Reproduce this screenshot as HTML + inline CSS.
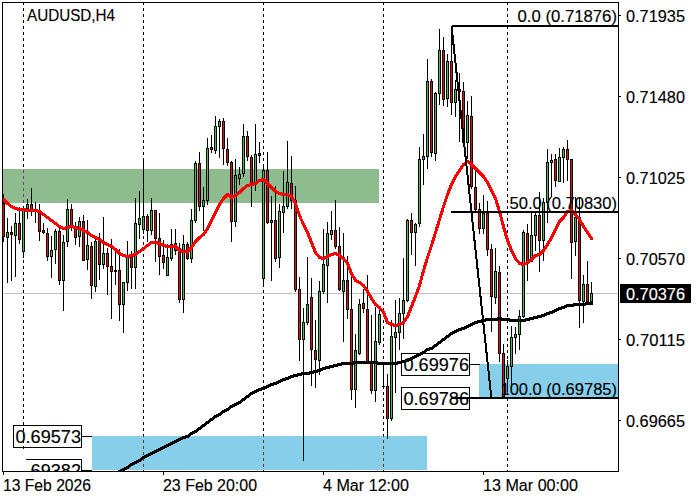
<!DOCTYPE html>
<html><head><meta charset="utf-8"><title>AUDUSD,H4</title>
<style>
html,body{margin:0;padding:0;background:#fff;}
body{width:700px;height:500px;overflow:hidden;}
svg{display:block;}
text{font-family:"Liberation Sans",sans-serif;fill:#000;stroke:#000;stroke-width:0.15px;}
</style></head><body>
<svg width="700" height="500" viewBox="0 0 700 500">
<rect width="700" height="500" fill="#fff"/>
<defs><clipPath id="c"><rect x="3" y="3" width="616" height="468"/></clipPath><clipPath id="c2"><rect x="26" y="459" width="60" height="12"/></clipPath></defs>
<g shape-rendering="crispEdges">
<rect x="3" y="169" width="376" height="34" fill="#8FBC8F"/>
<rect x="92" y="436" width="335" height="34" fill="#87CEEB"/>
<rect x="479" y="364" width="140" height="33" fill="#87CEEB"/>
<rect x="23" y="2" width="1" height="3" fill="#000"/>
<rect x="23" y="8" width="1" height="3" fill="#000"/>
<rect x="23" y="14" width="1" height="3" fill="#000"/>
<rect x="23" y="20" width="1" height="3" fill="#000"/>
<rect x="23" y="26" width="1" height="3" fill="#000"/>
<rect x="23" y="32" width="1" height="3" fill="#000"/>
<rect x="23" y="38" width="1" height="3" fill="#000"/>
<rect x="23" y="44" width="1" height="3" fill="#000"/>
<rect x="23" y="50" width="1" height="3" fill="#000"/>
<rect x="23" y="56" width="1" height="3" fill="#000"/>
<rect x="23" y="62" width="1" height="3" fill="#000"/>
<rect x="23" y="68" width="1" height="3" fill="#000"/>
<rect x="23" y="74" width="1" height="3" fill="#000"/>
<rect x="23" y="80" width="1" height="3" fill="#000"/>
<rect x="23" y="86" width="1" height="3" fill="#000"/>
<rect x="23" y="92" width="1" height="3" fill="#000"/>
<rect x="23" y="98" width="1" height="3" fill="#000"/>
<rect x="23" y="104" width="1" height="3" fill="#000"/>
<rect x="23" y="110" width="1" height="3" fill="#000"/>
<rect x="23" y="116" width="1" height="3" fill="#000"/>
<rect x="23" y="122" width="1" height="3" fill="#000"/>
<rect x="23" y="128" width="1" height="3" fill="#000"/>
<rect x="23" y="134" width="1" height="3" fill="#000"/>
<rect x="23" y="140" width="1" height="3" fill="#000"/>
<rect x="23" y="146" width="1" height="3" fill="#000"/>
<rect x="23" y="152" width="1" height="3" fill="#000"/>
<rect x="23" y="158" width="1" height="3" fill="#000"/>
<rect x="23" y="164" width="1" height="3" fill="#000"/>
<rect x="23" y="170" width="1" height="3" fill="#704370"/>
<rect x="23" y="176" width="1" height="3" fill="#704370"/>
<rect x="23" y="182" width="1" height="3" fill="#704370"/>
<rect x="23" y="188" width="1" height="3" fill="#704370"/>
<rect x="23" y="194" width="1" height="3" fill="#704370"/>
<rect x="23" y="200" width="1" height="3" fill="#704370"/>
<rect x="23" y="206" width="1" height="3" fill="#000"/>
<rect x="23" y="212" width="1" height="3" fill="#000"/>
<rect x="23" y="218" width="1" height="3" fill="#000"/>
<rect x="23" y="224" width="1" height="3" fill="#000"/>
<rect x="23" y="230" width="1" height="3" fill="#000"/>
<rect x="23" y="236" width="1" height="3" fill="#000"/>
<rect x="23" y="242" width="1" height="3" fill="#000"/>
<rect x="23" y="248" width="1" height="3" fill="#000"/>
<rect x="23" y="254" width="1" height="3" fill="#000"/>
<rect x="23" y="260" width="1" height="3" fill="#000"/>
<rect x="23" y="266" width="1" height="3" fill="#000"/>
<rect x="23" y="272" width="1" height="3" fill="#000"/>
<rect x="23" y="278" width="1" height="3" fill="#000"/>
<rect x="23" y="284" width="1" height="3" fill="#000"/>
<rect x="23" y="290" width="1" height="3" fill="#000"/>
<rect x="23" y="296" width="1" height="3" fill="#000"/>
<rect x="23" y="302" width="1" height="3" fill="#000"/>
<rect x="23" y="308" width="1" height="3" fill="#000"/>
<rect x="23" y="314" width="1" height="3" fill="#000"/>
<rect x="23" y="320" width="1" height="3" fill="#000"/>
<rect x="23" y="326" width="1" height="3" fill="#000"/>
<rect x="23" y="332" width="1" height="3" fill="#000"/>
<rect x="23" y="338" width="1" height="3" fill="#000"/>
<rect x="23" y="344" width="1" height="3" fill="#000"/>
<rect x="23" y="350" width="1" height="3" fill="#000"/>
<rect x="23" y="356" width="1" height="3" fill="#000"/>
<rect x="23" y="362" width="1" height="3" fill="#000"/>
<rect x="23" y="368" width="1" height="3" fill="#000"/>
<rect x="23" y="374" width="1" height="3" fill="#000"/>
<rect x="23" y="380" width="1" height="3" fill="#000"/>
<rect x="23" y="386" width="1" height="3" fill="#000"/>
<rect x="23" y="392" width="1" height="3" fill="#000"/>
<rect x="23" y="398" width="1" height="3" fill="#000"/>
<rect x="23" y="404" width="1" height="3" fill="#000"/>
<rect x="23" y="410" width="1" height="3" fill="#000"/>
<rect x="23" y="416" width="1" height="3" fill="#000"/>
<rect x="23" y="422" width="1" height="3" fill="#000"/>
<rect x="23" y="428" width="1" height="3" fill="#000"/>
<rect x="23" y="434" width="1" height="3" fill="#000"/>
<rect x="23" y="440" width="1" height="3" fill="#000"/>
<rect x="23" y="446" width="1" height="3" fill="#000"/>
<rect x="143" y="2" width="1" height="3" fill="#000"/>
<rect x="143" y="8" width="1" height="3" fill="#000"/>
<rect x="143" y="14" width="1" height="3" fill="#000"/>
<rect x="143" y="20" width="1" height="3" fill="#000"/>
<rect x="143" y="26" width="1" height="3" fill="#000"/>
<rect x="143" y="32" width="1" height="3" fill="#000"/>
<rect x="143" y="38" width="1" height="3" fill="#000"/>
<rect x="143" y="44" width="1" height="3" fill="#000"/>
<rect x="143" y="50" width="1" height="3" fill="#000"/>
<rect x="143" y="56" width="1" height="3" fill="#000"/>
<rect x="143" y="62" width="1" height="3" fill="#000"/>
<rect x="143" y="68" width="1" height="3" fill="#000"/>
<rect x="143" y="74" width="1" height="3" fill="#000"/>
<rect x="143" y="80" width="1" height="3" fill="#000"/>
<rect x="143" y="86" width="1" height="3" fill="#000"/>
<rect x="143" y="92" width="1" height="3" fill="#000"/>
<rect x="143" y="98" width="1" height="3" fill="#000"/>
<rect x="143" y="104" width="1" height="3" fill="#000"/>
<rect x="143" y="110" width="1" height="3" fill="#000"/>
<rect x="143" y="116" width="1" height="3" fill="#000"/>
<rect x="143" y="122" width="1" height="3" fill="#000"/>
<rect x="143" y="128" width="1" height="3" fill="#000"/>
<rect x="143" y="134" width="1" height="3" fill="#000"/>
<rect x="143" y="140" width="1" height="3" fill="#000"/>
<rect x="143" y="146" width="1" height="3" fill="#000"/>
<rect x="143" y="152" width="1" height="3" fill="#000"/>
<rect x="143" y="158" width="1" height="3" fill="#000"/>
<rect x="143" y="164" width="1" height="3" fill="#000"/>
<rect x="143" y="170" width="1" height="3" fill="#704370"/>
<rect x="143" y="176" width="1" height="3" fill="#704370"/>
<rect x="143" y="182" width="1" height="3" fill="#704370"/>
<rect x="143" y="188" width="1" height="3" fill="#704370"/>
<rect x="143" y="194" width="1" height="3" fill="#704370"/>
<rect x="143" y="200" width="1" height="3" fill="#704370"/>
<rect x="143" y="206" width="1" height="3" fill="#000"/>
<rect x="143" y="212" width="1" height="3" fill="#000"/>
<rect x="143" y="218" width="1" height="3" fill="#000"/>
<rect x="143" y="224" width="1" height="3" fill="#000"/>
<rect x="143" y="230" width="1" height="3" fill="#000"/>
<rect x="143" y="236" width="1" height="3" fill="#000"/>
<rect x="143" y="242" width="1" height="3" fill="#000"/>
<rect x="143" y="248" width="1" height="3" fill="#000"/>
<rect x="143" y="254" width="1" height="3" fill="#000"/>
<rect x="143" y="260" width="1" height="3" fill="#000"/>
<rect x="143" y="266" width="1" height="3" fill="#000"/>
<rect x="143" y="272" width="1" height="3" fill="#000"/>
<rect x="143" y="278" width="1" height="3" fill="#000"/>
<rect x="143" y="284" width="1" height="3" fill="#000"/>
<rect x="143" y="290" width="1" height="3" fill="#000"/>
<rect x="143" y="296" width="1" height="3" fill="#000"/>
<rect x="143" y="302" width="1" height="3" fill="#000"/>
<rect x="143" y="308" width="1" height="3" fill="#000"/>
<rect x="143" y="314" width="1" height="3" fill="#000"/>
<rect x="143" y="320" width="1" height="3" fill="#000"/>
<rect x="143" y="326" width="1" height="3" fill="#000"/>
<rect x="143" y="332" width="1" height="3" fill="#000"/>
<rect x="143" y="338" width="1" height="3" fill="#000"/>
<rect x="143" y="344" width="1" height="3" fill="#000"/>
<rect x="143" y="350" width="1" height="3" fill="#000"/>
<rect x="143" y="356" width="1" height="3" fill="#000"/>
<rect x="143" y="362" width="1" height="3" fill="#000"/>
<rect x="143" y="368" width="1" height="3" fill="#000"/>
<rect x="143" y="374" width="1" height="3" fill="#000"/>
<rect x="143" y="380" width="1" height="3" fill="#000"/>
<rect x="143" y="386" width="1" height="3" fill="#000"/>
<rect x="143" y="392" width="1" height="3" fill="#000"/>
<rect x="143" y="398" width="1" height="3" fill="#000"/>
<rect x="143" y="404" width="1" height="3" fill="#000"/>
<rect x="143" y="410" width="1" height="3" fill="#000"/>
<rect x="143" y="416" width="1" height="3" fill="#000"/>
<rect x="143" y="422" width="1" height="3" fill="#000"/>
<rect x="143" y="428" width="1" height="3" fill="#000"/>
<rect x="143" y="434" width="1" height="2" fill="#000"/>
<rect x="143" y="436" width="1" height="1" fill="#783114"/>
<rect x="143" y="440" width="1" height="3" fill="#783114"/>
<rect x="143" y="446" width="1" height="3" fill="#783114"/>
<rect x="143" y="452" width="1" height="3" fill="#783114"/>
<rect x="143" y="458" width="1" height="3" fill="#783114"/>
<rect x="143" y="464" width="1" height="3" fill="#783114"/>
<rect x="143" y="470" width="1" height="1" fill="#000"/>
<rect x="263" y="2" width="1" height="3" fill="#000"/>
<rect x="263" y="8" width="1" height="3" fill="#000"/>
<rect x="263" y="14" width="1" height="3" fill="#000"/>
<rect x="263" y="20" width="1" height="3" fill="#000"/>
<rect x="263" y="26" width="1" height="3" fill="#000"/>
<rect x="263" y="32" width="1" height="3" fill="#000"/>
<rect x="263" y="38" width="1" height="3" fill="#000"/>
<rect x="263" y="44" width="1" height="3" fill="#000"/>
<rect x="263" y="50" width="1" height="3" fill="#000"/>
<rect x="263" y="56" width="1" height="3" fill="#000"/>
<rect x="263" y="62" width="1" height="3" fill="#000"/>
<rect x="263" y="68" width="1" height="3" fill="#000"/>
<rect x="263" y="74" width="1" height="3" fill="#000"/>
<rect x="263" y="80" width="1" height="3" fill="#000"/>
<rect x="263" y="86" width="1" height="3" fill="#000"/>
<rect x="263" y="92" width="1" height="3" fill="#000"/>
<rect x="263" y="98" width="1" height="3" fill="#000"/>
<rect x="263" y="104" width="1" height="3" fill="#000"/>
<rect x="263" y="110" width="1" height="3" fill="#000"/>
<rect x="263" y="116" width="1" height="3" fill="#000"/>
<rect x="263" y="122" width="1" height="3" fill="#000"/>
<rect x="263" y="128" width="1" height="3" fill="#000"/>
<rect x="263" y="134" width="1" height="3" fill="#000"/>
<rect x="263" y="140" width="1" height="3" fill="#000"/>
<rect x="263" y="146" width="1" height="3" fill="#000"/>
<rect x="263" y="152" width="1" height="3" fill="#000"/>
<rect x="263" y="158" width="1" height="3" fill="#000"/>
<rect x="263" y="164" width="1" height="3" fill="#000"/>
<rect x="263" y="170" width="1" height="3" fill="#704370"/>
<rect x="263" y="176" width="1" height="3" fill="#704370"/>
<rect x="263" y="182" width="1" height="3" fill="#704370"/>
<rect x="263" y="188" width="1" height="3" fill="#704370"/>
<rect x="263" y="194" width="1" height="3" fill="#704370"/>
<rect x="263" y="200" width="1" height="3" fill="#704370"/>
<rect x="263" y="206" width="1" height="3" fill="#000"/>
<rect x="263" y="212" width="1" height="3" fill="#000"/>
<rect x="263" y="218" width="1" height="3" fill="#000"/>
<rect x="263" y="224" width="1" height="3" fill="#000"/>
<rect x="263" y="230" width="1" height="3" fill="#000"/>
<rect x="263" y="236" width="1" height="3" fill="#000"/>
<rect x="263" y="242" width="1" height="3" fill="#000"/>
<rect x="263" y="248" width="1" height="3" fill="#000"/>
<rect x="263" y="254" width="1" height="3" fill="#000"/>
<rect x="263" y="260" width="1" height="3" fill="#000"/>
<rect x="263" y="266" width="1" height="3" fill="#000"/>
<rect x="263" y="272" width="1" height="3" fill="#000"/>
<rect x="263" y="278" width="1" height="3" fill="#000"/>
<rect x="263" y="284" width="1" height="3" fill="#000"/>
<rect x="263" y="290" width="1" height="3" fill="#000"/>
<rect x="263" y="296" width="1" height="3" fill="#000"/>
<rect x="263" y="302" width="1" height="3" fill="#000"/>
<rect x="263" y="308" width="1" height="3" fill="#000"/>
<rect x="263" y="314" width="1" height="3" fill="#000"/>
<rect x="263" y="320" width="1" height="3" fill="#000"/>
<rect x="263" y="326" width="1" height="3" fill="#000"/>
<rect x="263" y="332" width="1" height="3" fill="#000"/>
<rect x="263" y="338" width="1" height="3" fill="#000"/>
<rect x="263" y="344" width="1" height="3" fill="#000"/>
<rect x="263" y="350" width="1" height="3" fill="#000"/>
<rect x="263" y="356" width="1" height="3" fill="#000"/>
<rect x="263" y="362" width="1" height="3" fill="#000"/>
<rect x="263" y="368" width="1" height="3" fill="#000"/>
<rect x="263" y="374" width="1" height="3" fill="#000"/>
<rect x="263" y="380" width="1" height="3" fill="#000"/>
<rect x="263" y="386" width="1" height="3" fill="#000"/>
<rect x="263" y="392" width="1" height="3" fill="#000"/>
<rect x="263" y="398" width="1" height="3" fill="#000"/>
<rect x="263" y="404" width="1" height="3" fill="#000"/>
<rect x="263" y="410" width="1" height="3" fill="#000"/>
<rect x="263" y="416" width="1" height="3" fill="#000"/>
<rect x="263" y="422" width="1" height="3" fill="#000"/>
<rect x="263" y="428" width="1" height="3" fill="#000"/>
<rect x="263" y="434" width="1" height="2" fill="#000"/>
<rect x="263" y="436" width="1" height="1" fill="#783114"/>
<rect x="263" y="440" width="1" height="3" fill="#783114"/>
<rect x="263" y="446" width="1" height="3" fill="#783114"/>
<rect x="263" y="452" width="1" height="3" fill="#783114"/>
<rect x="263" y="458" width="1" height="3" fill="#783114"/>
<rect x="263" y="464" width="1" height="3" fill="#783114"/>
<rect x="263" y="470" width="1" height="1" fill="#000"/>
<rect x="383" y="2" width="1" height="3" fill="#000"/>
<rect x="383" y="8" width="1" height="3" fill="#000"/>
<rect x="383" y="14" width="1" height="3" fill="#000"/>
<rect x="383" y="20" width="1" height="3" fill="#000"/>
<rect x="383" y="26" width="1" height="3" fill="#000"/>
<rect x="383" y="32" width="1" height="3" fill="#000"/>
<rect x="383" y="38" width="1" height="3" fill="#000"/>
<rect x="383" y="44" width="1" height="3" fill="#000"/>
<rect x="383" y="50" width="1" height="3" fill="#000"/>
<rect x="383" y="56" width="1" height="3" fill="#000"/>
<rect x="383" y="62" width="1" height="3" fill="#000"/>
<rect x="383" y="68" width="1" height="3" fill="#000"/>
<rect x="383" y="74" width="1" height="3" fill="#000"/>
<rect x="383" y="80" width="1" height="3" fill="#000"/>
<rect x="383" y="86" width="1" height="3" fill="#000"/>
<rect x="383" y="92" width="1" height="3" fill="#000"/>
<rect x="383" y="98" width="1" height="3" fill="#000"/>
<rect x="383" y="104" width="1" height="3" fill="#000"/>
<rect x="383" y="110" width="1" height="3" fill="#000"/>
<rect x="383" y="116" width="1" height="3" fill="#000"/>
<rect x="383" y="122" width="1" height="3" fill="#000"/>
<rect x="383" y="128" width="1" height="3" fill="#000"/>
<rect x="383" y="134" width="1" height="3" fill="#000"/>
<rect x="383" y="140" width="1" height="3" fill="#000"/>
<rect x="383" y="146" width="1" height="3" fill="#000"/>
<rect x="383" y="152" width="1" height="3" fill="#000"/>
<rect x="383" y="158" width="1" height="3" fill="#000"/>
<rect x="383" y="164" width="1" height="3" fill="#000"/>
<rect x="383" y="170" width="1" height="3" fill="#000"/>
<rect x="383" y="176" width="1" height="3" fill="#000"/>
<rect x="383" y="182" width="1" height="3" fill="#000"/>
<rect x="383" y="188" width="1" height="3" fill="#000"/>
<rect x="383" y="194" width="1" height="3" fill="#000"/>
<rect x="383" y="200" width="1" height="3" fill="#000"/>
<rect x="383" y="206" width="1" height="3" fill="#000"/>
<rect x="383" y="212" width="1" height="3" fill="#000"/>
<rect x="383" y="218" width="1" height="3" fill="#000"/>
<rect x="383" y="224" width="1" height="3" fill="#000"/>
<rect x="383" y="230" width="1" height="3" fill="#000"/>
<rect x="383" y="236" width="1" height="3" fill="#000"/>
<rect x="383" y="242" width="1" height="3" fill="#000"/>
<rect x="383" y="248" width="1" height="3" fill="#000"/>
<rect x="383" y="254" width="1" height="3" fill="#000"/>
<rect x="383" y="260" width="1" height="3" fill="#000"/>
<rect x="383" y="266" width="1" height="3" fill="#000"/>
<rect x="383" y="272" width="1" height="3" fill="#000"/>
<rect x="383" y="278" width="1" height="3" fill="#000"/>
<rect x="383" y="284" width="1" height="3" fill="#000"/>
<rect x="383" y="290" width="1" height="3" fill="#000"/>
<rect x="383" y="296" width="1" height="3" fill="#000"/>
<rect x="383" y="302" width="1" height="3" fill="#000"/>
<rect x="383" y="308" width="1" height="3" fill="#000"/>
<rect x="383" y="314" width="1" height="3" fill="#000"/>
<rect x="383" y="320" width="1" height="3" fill="#000"/>
<rect x="383" y="326" width="1" height="3" fill="#000"/>
<rect x="383" y="332" width="1" height="3" fill="#000"/>
<rect x="383" y="338" width="1" height="3" fill="#000"/>
<rect x="383" y="344" width="1" height="3" fill="#000"/>
<rect x="383" y="350" width="1" height="3" fill="#000"/>
<rect x="383" y="356" width="1" height="3" fill="#000"/>
<rect x="383" y="362" width="1" height="3" fill="#000"/>
<rect x="383" y="368" width="1" height="3" fill="#000"/>
<rect x="383" y="374" width="1" height="3" fill="#000"/>
<rect x="383" y="380" width="1" height="3" fill="#000"/>
<rect x="383" y="386" width="1" height="3" fill="#000"/>
<rect x="383" y="392" width="1" height="3" fill="#000"/>
<rect x="383" y="398" width="1" height="3" fill="#000"/>
<rect x="383" y="404" width="1" height="3" fill="#000"/>
<rect x="383" y="410" width="1" height="3" fill="#000"/>
<rect x="383" y="416" width="1" height="3" fill="#000"/>
<rect x="383" y="422" width="1" height="3" fill="#000"/>
<rect x="383" y="428" width="1" height="3" fill="#000"/>
<rect x="383" y="434" width="1" height="2" fill="#000"/>
<rect x="383" y="436" width="1" height="1" fill="#783114"/>
<rect x="383" y="440" width="1" height="3" fill="#783114"/>
<rect x="383" y="446" width="1" height="3" fill="#783114"/>
<rect x="383" y="452" width="1" height="3" fill="#783114"/>
<rect x="383" y="458" width="1" height="3" fill="#783114"/>
<rect x="383" y="464" width="1" height="3" fill="#783114"/>
<rect x="383" y="470" width="1" height="1" fill="#000"/>
<rect x="507" y="2" width="1" height="3" fill="#000"/>
<rect x="507" y="8" width="1" height="3" fill="#000"/>
<rect x="507" y="14" width="1" height="3" fill="#000"/>
<rect x="507" y="20" width="1" height="3" fill="#000"/>
<rect x="507" y="26" width="1" height="3" fill="#000"/>
<rect x="507" y="32" width="1" height="3" fill="#000"/>
<rect x="507" y="38" width="1" height="3" fill="#000"/>
<rect x="507" y="44" width="1" height="3" fill="#000"/>
<rect x="507" y="50" width="1" height="3" fill="#000"/>
<rect x="507" y="56" width="1" height="3" fill="#000"/>
<rect x="507" y="62" width="1" height="3" fill="#000"/>
<rect x="507" y="68" width="1" height="3" fill="#000"/>
<rect x="507" y="74" width="1" height="3" fill="#000"/>
<rect x="507" y="80" width="1" height="3" fill="#000"/>
<rect x="507" y="86" width="1" height="3" fill="#000"/>
<rect x="507" y="92" width="1" height="3" fill="#000"/>
<rect x="507" y="98" width="1" height="3" fill="#000"/>
<rect x="507" y="104" width="1" height="3" fill="#000"/>
<rect x="507" y="110" width="1" height="3" fill="#000"/>
<rect x="507" y="116" width="1" height="3" fill="#000"/>
<rect x="507" y="122" width="1" height="3" fill="#000"/>
<rect x="507" y="128" width="1" height="3" fill="#000"/>
<rect x="507" y="134" width="1" height="3" fill="#000"/>
<rect x="507" y="140" width="1" height="3" fill="#000"/>
<rect x="507" y="146" width="1" height="3" fill="#000"/>
<rect x="507" y="152" width="1" height="3" fill="#000"/>
<rect x="507" y="158" width="1" height="3" fill="#000"/>
<rect x="507" y="164" width="1" height="3" fill="#000"/>
<rect x="507" y="170" width="1" height="3" fill="#000"/>
<rect x="507" y="176" width="1" height="3" fill="#000"/>
<rect x="507" y="182" width="1" height="3" fill="#000"/>
<rect x="507" y="188" width="1" height="3" fill="#000"/>
<rect x="507" y="194" width="1" height="3" fill="#000"/>
<rect x="507" y="200" width="1" height="3" fill="#000"/>
<rect x="507" y="206" width="1" height="3" fill="#000"/>
<rect x="507" y="212" width="1" height="3" fill="#000"/>
<rect x="507" y="218" width="1" height="3" fill="#000"/>
<rect x="507" y="224" width="1" height="3" fill="#000"/>
<rect x="507" y="230" width="1" height="3" fill="#000"/>
<rect x="507" y="236" width="1" height="3" fill="#000"/>
<rect x="507" y="242" width="1" height="3" fill="#000"/>
<rect x="507" y="248" width="1" height="3" fill="#000"/>
<rect x="507" y="254" width="1" height="3" fill="#000"/>
<rect x="507" y="260" width="1" height="3" fill="#000"/>
<rect x="507" y="266" width="1" height="3" fill="#000"/>
<rect x="507" y="272" width="1" height="3" fill="#000"/>
<rect x="507" y="278" width="1" height="3" fill="#000"/>
<rect x="507" y="284" width="1" height="3" fill="#000"/>
<rect x="507" y="290" width="1" height="3" fill="#000"/>
<rect x="507" y="296" width="1" height="3" fill="#000"/>
<rect x="507" y="302" width="1" height="3" fill="#000"/>
<rect x="507" y="308" width="1" height="3" fill="#000"/>
<rect x="507" y="314" width="1" height="3" fill="#000"/>
<rect x="507" y="320" width="1" height="3" fill="#000"/>
<rect x="507" y="326" width="1" height="3" fill="#000"/>
<rect x="507" y="332" width="1" height="3" fill="#000"/>
<rect x="507" y="338" width="1" height="3" fill="#000"/>
<rect x="507" y="344" width="1" height="3" fill="#000"/>
<rect x="507" y="350" width="1" height="3" fill="#000"/>
<rect x="507" y="356" width="1" height="3" fill="#000"/>
<rect x="507" y="362" width="1" height="2" fill="#000"/>
<rect x="507" y="364" width="1" height="1" fill="#783114"/>
<rect x="507" y="368" width="1" height="3" fill="#783114"/>
<rect x="507" y="374" width="1" height="3" fill="#783114"/>
<rect x="507" y="380" width="1" height="3" fill="#783114"/>
<rect x="507" y="386" width="1" height="3" fill="#783114"/>
<rect x="507" y="392" width="1" height="3" fill="#783114"/>
<rect x="507" y="398" width="1" height="3" fill="#000"/>
<rect x="507" y="404" width="1" height="3" fill="#000"/>
<rect x="507" y="410" width="1" height="3" fill="#000"/>
<rect x="507" y="416" width="1" height="3" fill="#000"/>
<rect x="507" y="422" width="1" height="3" fill="#000"/>
<rect x="507" y="428" width="1" height="3" fill="#000"/>
<rect x="507" y="434" width="1" height="3" fill="#000"/>
<rect x="507" y="440" width="1" height="3" fill="#000"/>
<rect x="507" y="446" width="1" height="3" fill="#000"/>
<rect x="507" y="452" width="1" height="3" fill="#000"/>
<rect x="507" y="458" width="1" height="3" fill="#000"/>
<rect x="507" y="464" width="1" height="3" fill="#000"/>
<rect x="507" y="470" width="1" height="1" fill="#000"/>
<rect x="3" y="293" width="616" height="1" fill="#C0C0C0"/>
<rect x="3" y="194" width="1" height="48" fill="#000"/>
<rect x="2" y="203" width="3" height="34" fill="#000"/>
<rect x="3" y="204" width="1" height="32" fill="#FF0000"/>
<rect x="7" y="218" width="1" height="65" fill="#000"/>
<rect x="6" y="232" width="3" height="6" fill="#000"/>
<rect x="7" y="233" width="1" height="4" fill="#32CD32"/>
<rect x="11" y="226" width="1" height="55" fill="#000"/>
<rect x="10" y="232" width="3" height="3" fill="#000"/>
<rect x="11" y="233" width="1" height="1" fill="#FF0000"/>
<rect x="15" y="213" width="1" height="64" fill="#000"/>
<rect x="14" y="223" width="3" height="13" fill="#000"/>
<rect x="15" y="224" width="1" height="11" fill="#32CD32"/>
<rect x="19" y="207" width="1" height="37" fill="#000"/>
<rect x="18" y="223" width="3" height="17" fill="#000"/>
<rect x="19" y="224" width="1" height="15" fill="#FF0000"/>
<rect x="23" y="206" width="1" height="52" fill="#000"/>
<rect x="22" y="208" width="3" height="44" fill="#000"/>
<rect x="23" y="209" width="1" height="42" fill="#32CD32"/>
<rect x="27" y="199" width="1" height="20" fill="#000"/>
<rect x="26" y="204" width="3" height="5" fill="#000"/>
<rect x="27" y="205" width="1" height="3" fill="#32CD32"/>
<rect x="31" y="188" width="1" height="28" fill="#000"/>
<rect x="30" y="204" width="3" height="6" fill="#000"/>
<rect x="31" y="205" width="1" height="4" fill="#FF0000"/>
<rect x="35" y="202" width="1" height="21" fill="#000"/>
<rect x="34" y="209" width="3" height="2" fill="#000"/>
<rect x="39" y="204" width="1" height="37" fill="#000"/>
<rect x="38" y="211" width="3" height="21" fill="#000"/>
<rect x="39" y="212" width="1" height="19" fill="#FF0000"/>
<rect x="43" y="223" width="1" height="11" fill="#000"/>
<rect x="42" y="230" width="3" height="3" fill="#000"/>
<rect x="43" y="231" width="1" height="1" fill="#FF0000"/>
<rect x="47" y="228" width="1" height="33" fill="#000"/>
<rect x="46" y="233" width="3" height="24" fill="#000"/>
<rect x="47" y="234" width="1" height="22" fill="#FF0000"/>
<rect x="51" y="236" width="1" height="42" fill="#000"/>
<rect x="50" y="250" width="3" height="7" fill="#000"/>
<rect x="51" y="251" width="1" height="5" fill="#32CD32"/>
<rect x="55" y="229" width="1" height="35" fill="#000"/>
<rect x="54" y="231" width="3" height="19" fill="#000"/>
<rect x="55" y="232" width="1" height="17" fill="#32CD32"/>
<rect x="59" y="228" width="1" height="57" fill="#000"/>
<rect x="58" y="231" width="3" height="50" fill="#000"/>
<rect x="59" y="232" width="1" height="48" fill="#FF0000"/>
<rect x="63" y="235" width="1" height="76" fill="#000"/>
<rect x="62" y="242" width="3" height="39" fill="#000"/>
<rect x="63" y="243" width="1" height="37" fill="#32CD32"/>
<rect x="67" y="199" width="1" height="48" fill="#000"/>
<rect x="66" y="209" width="3" height="33" fill="#000"/>
<rect x="67" y="210" width="1" height="31" fill="#32CD32"/>
<rect x="71" y="204" width="1" height="27" fill="#000"/>
<rect x="70" y="209" width="3" height="18" fill="#000"/>
<rect x="71" y="210" width="1" height="16" fill="#FF0000"/>
<rect x="75" y="222" width="1" height="23" fill="#000"/>
<rect x="74" y="227" width="3" height="11" fill="#000"/>
<rect x="75" y="228" width="1" height="9" fill="#FF0000"/>
<rect x="79" y="217" width="1" height="30" fill="#000"/>
<rect x="78" y="221" width="3" height="16" fill="#000"/>
<rect x="79" y="222" width="1" height="14" fill="#32CD32"/>
<rect x="83" y="215" width="1" height="46" fill="#000"/>
<rect x="82" y="221" width="3" height="40" fill="#000"/>
<rect x="83" y="222" width="1" height="38" fill="#FF0000"/>
<rect x="87" y="220" width="1" height="50" fill="#000"/>
<rect x="86" y="245" width="3" height="15" fill="#000"/>
<rect x="87" y="246" width="1" height="13" fill="#32CD32"/>
<rect x="91" y="242" width="1" height="57" fill="#000"/>
<rect x="90" y="246" width="3" height="40" fill="#000"/>
<rect x="91" y="247" width="1" height="38" fill="#FF0000"/>
<rect x="95" y="239" width="1" height="53" fill="#000"/>
<rect x="94" y="241" width="3" height="46" fill="#000"/>
<rect x="95" y="242" width="1" height="44" fill="#32CD32"/>
<rect x="99" y="233" width="1" height="47" fill="#000"/>
<rect x="98" y="241" width="3" height="24" fill="#000"/>
<rect x="99" y="242" width="1" height="22" fill="#FF0000"/>
<rect x="103" y="217" width="1" height="52" fill="#000"/>
<rect x="102" y="253" width="3" height="12" fill="#000"/>
<rect x="103" y="254" width="1" height="10" fill="#32CD32"/>
<rect x="107" y="248" width="1" height="47" fill="#000"/>
<rect x="106" y="253" width="3" height="14" fill="#000"/>
<rect x="107" y="254" width="1" height="12" fill="#FF0000"/>
<rect x="111" y="239" width="1" height="80" fill="#000"/>
<rect x="110" y="266" width="3" height="6" fill="#000"/>
<rect x="111" y="267" width="1" height="4" fill="#FF0000"/>
<rect x="115" y="251" width="1" height="34" fill="#000"/>
<rect x="114" y="270" width="3" height="2" fill="#000"/>
<rect x="119" y="249" width="1" height="72" fill="#000"/>
<rect x="118" y="270" width="3" height="35" fill="#000"/>
<rect x="119" y="271" width="1" height="33" fill="#FF0000"/>
<rect x="123" y="282" width="1" height="51" fill="#000"/>
<rect x="122" y="282" width="3" height="23" fill="#000"/>
<rect x="123" y="283" width="1" height="21" fill="#32CD32"/>
<rect x="127" y="241" width="1" height="50" fill="#000"/>
<rect x="126" y="257" width="3" height="26" fill="#000"/>
<rect x="127" y="258" width="1" height="24" fill="#32CD32"/>
<rect x="131" y="251" width="1" height="38" fill="#000"/>
<rect x="130" y="257" width="3" height="11" fill="#000"/>
<rect x="131" y="258" width="1" height="9" fill="#FF0000"/>
<rect x="135" y="198" width="1" height="91" fill="#000"/>
<rect x="134" y="223" width="3" height="45" fill="#000"/>
<rect x="135" y="224" width="1" height="43" fill="#32CD32"/>
<rect x="139" y="191" width="1" height="48" fill="#000"/>
<rect x="138" y="218" width="3" height="7" fill="#000"/>
<rect x="139" y="219" width="1" height="5" fill="#32CD32"/>
<rect x="143" y="158" width="1" height="76" fill="#000"/>
<rect x="142" y="216" width="3" height="14" fill="#000"/>
<rect x="143" y="217" width="1" height="12" fill="#32CD32"/>
<rect x="147" y="214" width="1" height="28" fill="#000"/>
<rect x="146" y="216" width="3" height="15" fill="#000"/>
<rect x="147" y="217" width="1" height="13" fill="#FF0000"/>
<rect x="151" y="198" width="1" height="37" fill="#000"/>
<rect x="150" y="210" width="3" height="21" fill="#000"/>
<rect x="151" y="211" width="1" height="19" fill="#32CD32"/>
<rect x="155" y="210" width="1" height="52" fill="#000"/>
<rect x="154" y="210" width="3" height="29" fill="#000"/>
<rect x="155" y="211" width="1" height="27" fill="#FF0000"/>
<rect x="159" y="213" width="1" height="62" fill="#000"/>
<rect x="158" y="238" width="3" height="19" fill="#000"/>
<rect x="159" y="239" width="1" height="17" fill="#FF0000"/>
<rect x="163" y="240" width="1" height="29" fill="#000"/>
<rect x="162" y="255" width="3" height="8" fill="#000"/>
<rect x="163" y="256" width="1" height="6" fill="#FF0000"/>
<rect x="167" y="244" width="1" height="32" fill="#000"/>
<rect x="166" y="257" width="3" height="19" fill="#000"/>
<rect x="167" y="258" width="1" height="17" fill="#32CD32"/>
<rect x="171" y="229" width="1" height="32" fill="#000"/>
<rect x="170" y="244" width="3" height="15" fill="#000"/>
<rect x="171" y="245" width="1" height="13" fill="#32CD32"/>
<rect x="175" y="229" width="1" height="26" fill="#000"/>
<rect x="174" y="243" width="3" height="8" fill="#000"/>
<rect x="175" y="244" width="1" height="6" fill="#FF0000"/>
<rect x="179" y="243" width="1" height="60" fill="#000"/>
<rect x="178" y="248" width="3" height="52" fill="#000"/>
<rect x="179" y="249" width="1" height="50" fill="#FF0000"/>
<rect x="183" y="235" width="1" height="78" fill="#000"/>
<rect x="182" y="244" width="3" height="56" fill="#000"/>
<rect x="183" y="245" width="1" height="54" fill="#32CD32"/>
<rect x="187" y="242" width="1" height="18" fill="#000"/>
<rect x="186" y="244" width="3" height="15" fill="#000"/>
<rect x="187" y="245" width="1" height="13" fill="#FF0000"/>
<rect x="191" y="209" width="1" height="54" fill="#000"/>
<rect x="190" y="220" width="3" height="39" fill="#000"/>
<rect x="191" y="221" width="1" height="37" fill="#32CD32"/>
<rect x="195" y="161" width="1" height="62" fill="#000"/>
<rect x="194" y="163" width="3" height="58" fill="#000"/>
<rect x="195" y="164" width="1" height="56" fill="#32CD32"/>
<rect x="199" y="152" width="1" height="59" fill="#000"/>
<rect x="198" y="163" width="3" height="44" fill="#000"/>
<rect x="199" y="164" width="1" height="42" fill="#FF0000"/>
<rect x="203" y="187" width="1" height="44" fill="#000"/>
<rect x="202" y="200" width="3" height="7" fill="#000"/>
<rect x="203" y="201" width="1" height="5" fill="#32CD32"/>
<rect x="207" y="138" width="1" height="67" fill="#000"/>
<rect x="206" y="148" width="3" height="53" fill="#000"/>
<rect x="207" y="149" width="1" height="51" fill="#32CD32"/>
<rect x="211" y="135" width="1" height="18" fill="#000"/>
<rect x="210" y="147" width="3" height="3" fill="#000"/>
<rect x="211" y="148" width="1" height="1" fill="#FF0000"/>
<rect x="215" y="116" width="1" height="38" fill="#000"/>
<rect x="214" y="126" width="3" height="25" fill="#000"/>
<rect x="215" y="127" width="1" height="23" fill="#32CD32"/>
<rect x="219" y="119" width="1" height="39" fill="#000"/>
<rect x="218" y="121" width="3" height="6" fill="#000"/>
<rect x="219" y="122" width="1" height="4" fill="#32CD32"/>
<rect x="223" y="118" width="1" height="47" fill="#000"/>
<rect x="222" y="121" width="3" height="28" fill="#000"/>
<rect x="223" y="122" width="1" height="26" fill="#FF0000"/>
<rect x="227" y="138" width="1" height="28" fill="#000"/>
<rect x="226" y="149" width="3" height="14" fill="#000"/>
<rect x="227" y="150" width="1" height="12" fill="#FF0000"/>
<rect x="231" y="161" width="1" height="81" fill="#000"/>
<rect x="230" y="162" width="3" height="60" fill="#000"/>
<rect x="231" y="163" width="1" height="58" fill="#FF0000"/>
<rect x="235" y="159" width="1" height="68" fill="#000"/>
<rect x="234" y="175" width="3" height="47" fill="#000"/>
<rect x="235" y="176" width="1" height="45" fill="#32CD32"/>
<rect x="239" y="167" width="1" height="18" fill="#000"/>
<rect x="238" y="174" width="3" height="5" fill="#000"/>
<rect x="239" y="175" width="1" height="3" fill="#32CD32"/>
<rect x="243" y="124" width="1" height="53" fill="#000"/>
<rect x="242" y="136" width="3" height="38" fill="#000"/>
<rect x="243" y="137" width="1" height="36" fill="#32CD32"/>
<rect x="247" y="131" width="1" height="30" fill="#000"/>
<rect x="246" y="136" width="3" height="21" fill="#000"/>
<rect x="247" y="137" width="1" height="19" fill="#FF0000"/>
<rect x="251" y="155" width="1" height="52" fill="#000"/>
<rect x="250" y="157" width="3" height="29" fill="#000"/>
<rect x="251" y="158" width="1" height="27" fill="#FF0000"/>
<rect x="255" y="124" width="1" height="67" fill="#000"/>
<rect x="254" y="154" width="3" height="31" fill="#000"/>
<rect x="255" y="155" width="1" height="29" fill="#32CD32"/>
<rect x="259" y="142" width="1" height="21" fill="#000"/>
<rect x="258" y="153" width="3" height="3" fill="#000"/>
<rect x="259" y="154" width="1" height="1" fill="#FF0000"/>
<rect x="263" y="164" width="1" height="123" fill="#000"/>
<rect x="262" y="170" width="3" height="109" fill="#000"/>
<rect x="263" y="171" width="1" height="107" fill="#32CD32"/>
<rect x="267" y="152" width="1" height="72" fill="#000"/>
<rect x="266" y="170" width="3" height="53" fill="#000"/>
<rect x="267" y="171" width="1" height="51" fill="#FF0000"/>
<rect x="271" y="196" width="1" height="85" fill="#000"/>
<rect x="270" y="220" width="3" height="3" fill="#000"/>
<rect x="271" y="221" width="1" height="1" fill="#32CD32"/>
<rect x="275" y="186" width="1" height="76" fill="#000"/>
<rect x="274" y="220" width="3" height="39" fill="#000"/>
<rect x="275" y="221" width="1" height="37" fill="#FF0000"/>
<rect x="279" y="204" width="1" height="64" fill="#000"/>
<rect x="278" y="211" width="3" height="47" fill="#000"/>
<rect x="279" y="212" width="1" height="45" fill="#32CD32"/>
<rect x="283" y="171" width="1" height="62" fill="#000"/>
<rect x="282" y="206" width="3" height="7" fill="#000"/>
<rect x="283" y="207" width="1" height="5" fill="#32CD32"/>
<rect x="287" y="141" width="1" height="68" fill="#000"/>
<rect x="286" y="182" width="3" height="25" fill="#000"/>
<rect x="287" y="183" width="1" height="23" fill="#32CD32"/>
<rect x="291" y="156" width="1" height="53" fill="#000"/>
<rect x="290" y="183" width="3" height="18" fill="#000"/>
<rect x="291" y="184" width="1" height="16" fill="#FF0000"/>
<rect x="295" y="186" width="1" height="106" fill="#000"/>
<rect x="294" y="200" width="3" height="90" fill="#000"/>
<rect x="295" y="201" width="1" height="88" fill="#FF0000"/>
<rect x="299" y="277" width="1" height="84" fill="#000"/>
<rect x="298" y="289" width="3" height="51" fill="#000"/>
<rect x="299" y="290" width="1" height="49" fill="#FF0000"/>
<rect x="303" y="308" width="1" height="153" fill="#000"/>
<rect x="302" y="322" width="3" height="18" fill="#000"/>
<rect x="303" y="323" width="1" height="16" fill="#32CD32"/>
<rect x="307" y="257" width="1" height="68" fill="#000"/>
<rect x="306" y="304" width="3" height="19" fill="#000"/>
<rect x="307" y="305" width="1" height="17" fill="#32CD32"/>
<rect x="311" y="278" width="1" height="108" fill="#000"/>
<rect x="310" y="297" width="3" height="53" fill="#000"/>
<rect x="311" y="298" width="1" height="51" fill="#FF0000"/>
<rect x="315" y="320" width="1" height="68" fill="#000"/>
<rect x="314" y="350" width="3" height="10" fill="#000"/>
<rect x="315" y="351" width="1" height="8" fill="#FF0000"/>
<rect x="319" y="281" width="1" height="94" fill="#000"/>
<rect x="318" y="291" width="3" height="70" fill="#000"/>
<rect x="319" y="292" width="1" height="68" fill="#32CD32"/>
<rect x="323" y="229" width="1" height="65" fill="#000"/>
<rect x="322" y="264" width="3" height="28" fill="#000"/>
<rect x="323" y="265" width="1" height="26" fill="#32CD32"/>
<rect x="327" y="222" width="1" height="81" fill="#000"/>
<rect x="326" y="233" width="3" height="33" fill="#000"/>
<rect x="327" y="234" width="1" height="31" fill="#32CD32"/>
<rect x="331" y="211" width="1" height="29" fill="#000"/>
<rect x="330" y="230" width="3" height="5" fill="#000"/>
<rect x="331" y="231" width="1" height="3" fill="#32CD32"/>
<rect x="335" y="200" width="1" height="49" fill="#000"/>
<rect x="334" y="230" width="3" height="17" fill="#000"/>
<rect x="335" y="231" width="1" height="15" fill="#FF0000"/>
<rect x="339" y="227" width="1" height="64" fill="#000"/>
<rect x="338" y="246" width="3" height="44" fill="#000"/>
<rect x="339" y="247" width="1" height="42" fill="#FF0000"/>
<rect x="343" y="233" width="1" height="109" fill="#000"/>
<rect x="342" y="280" width="3" height="12" fill="#000"/>
<rect x="343" y="281" width="1" height="10" fill="#32CD32"/>
<rect x="347" y="256" width="1" height="63" fill="#000"/>
<rect x="346" y="280" width="3" height="30" fill="#000"/>
<rect x="347" y="281" width="1" height="28" fill="#FF0000"/>
<rect x="351" y="274" width="1" height="126" fill="#000"/>
<rect x="350" y="309" width="3" height="81" fill="#000"/>
<rect x="351" y="310" width="1" height="79" fill="#FF0000"/>
<rect x="355" y="334" width="1" height="74" fill="#000"/>
<rect x="354" y="350" width="3" height="40" fill="#000"/>
<rect x="355" y="351" width="1" height="38" fill="#32CD32"/>
<rect x="359" y="299" width="1" height="56" fill="#000"/>
<rect x="358" y="304" width="3" height="50" fill="#000"/>
<rect x="359" y="305" width="1" height="48" fill="#32CD32"/>
<rect x="363" y="289" width="1" height="24" fill="#000"/>
<rect x="362" y="303" width="3" height="6" fill="#000"/>
<rect x="363" y="304" width="1" height="4" fill="#FF0000"/>
<rect x="367" y="275" width="1" height="88" fill="#000"/>
<rect x="366" y="309" width="3" height="53" fill="#000"/>
<rect x="367" y="310" width="1" height="51" fill="#FF0000"/>
<rect x="371" y="315" width="1" height="79" fill="#000"/>
<rect x="370" y="361" width="3" height="30" fill="#000"/>
<rect x="371" y="362" width="1" height="28" fill="#FF0000"/>
<rect x="375" y="307" width="1" height="95" fill="#000"/>
<rect x="374" y="341" width="3" height="50" fill="#000"/>
<rect x="375" y="342" width="1" height="48" fill="#32CD32"/>
<rect x="379" y="309" width="1" height="36" fill="#000"/>
<rect x="378" y="314" width="3" height="29" fill="#000"/>
<rect x="379" y="315" width="1" height="27" fill="#32CD32"/>
<rect x="383" y="362" width="1" height="26" fill="#000"/>
<rect x="382" y="386" width="3" height="1" fill="#000"/>
<rect x="387" y="374" width="1" height="65" fill="#000"/>
<rect x="386" y="386" width="3" height="33" fill="#000"/>
<rect x="387" y="387" width="1" height="31" fill="#FF0000"/>
<rect x="391" y="320" width="1" height="101" fill="#000"/>
<rect x="390" y="336" width="3" height="83" fill="#000"/>
<rect x="391" y="337" width="1" height="81" fill="#32CD32"/>
<rect x="395" y="300" width="1" height="93" fill="#000"/>
<rect x="394" y="332" width="3" height="6" fill="#000"/>
<rect x="395" y="333" width="1" height="4" fill="#32CD32"/>
<rect x="399" y="298" width="1" height="52" fill="#000"/>
<rect x="398" y="313" width="3" height="20" fill="#000"/>
<rect x="399" y="314" width="1" height="18" fill="#32CD32"/>
<rect x="403" y="258" width="1" height="81" fill="#000"/>
<rect x="402" y="300" width="3" height="14" fill="#000"/>
<rect x="403" y="301" width="1" height="12" fill="#32CD32"/>
<rect x="407" y="219" width="1" height="83" fill="#000"/>
<rect x="406" y="220" width="3" height="81" fill="#000"/>
<rect x="407" y="221" width="1" height="79" fill="#32CD32"/>
<rect x="411" y="213" width="1" height="42" fill="#000"/>
<rect x="410" y="220" width="3" height="13" fill="#000"/>
<rect x="411" y="221" width="1" height="11" fill="#FF0000"/>
<rect x="415" y="223" width="1" height="43" fill="#000"/>
<rect x="414" y="224" width="3" height="9" fill="#000"/>
<rect x="415" y="225" width="1" height="7" fill="#32CD32"/>
<rect x="419" y="147" width="1" height="80" fill="#000"/>
<rect x="418" y="159" width="3" height="65" fill="#000"/>
<rect x="419" y="160" width="1" height="63" fill="#32CD32"/>
<rect x="423" y="134" width="1" height="51" fill="#000"/>
<rect x="422" y="156" width="3" height="4" fill="#000"/>
<rect x="423" y="157" width="1" height="2" fill="#32CD32"/>
<rect x="427" y="59" width="1" height="110" fill="#000"/>
<rect x="426" y="81" width="3" height="76" fill="#000"/>
<rect x="427" y="82" width="1" height="74" fill="#32CD32"/>
<rect x="431" y="79" width="1" height="78" fill="#000"/>
<rect x="430" y="81" width="3" height="72" fill="#000"/>
<rect x="431" y="82" width="1" height="70" fill="#FF0000"/>
<rect x="435" y="92" width="1" height="69" fill="#000"/>
<rect x="434" y="93" width="3" height="61" fill="#000"/>
<rect x="435" y="94" width="1" height="59" fill="#32CD32"/>
<rect x="439" y="29" width="1" height="76" fill="#000"/>
<rect x="438" y="50" width="3" height="44" fill="#000"/>
<rect x="439" y="51" width="1" height="42" fill="#32CD32"/>
<rect x="443" y="37" width="1" height="69" fill="#000"/>
<rect x="442" y="50" width="3" height="50" fill="#000"/>
<rect x="443" y="51" width="1" height="48" fill="#FF0000"/>
<rect x="447" y="54" width="1" height="53" fill="#000"/>
<rect x="446" y="61" width="3" height="38" fill="#000"/>
<rect x="447" y="62" width="1" height="36" fill="#32CD32"/>
<rect x="451" y="26" width="1" height="89" fill="#000"/>
<rect x="450" y="61" width="3" height="42" fill="#000"/>
<rect x="451" y="62" width="1" height="40" fill="#FF0000"/>
<rect x="455" y="80" width="1" height="37" fill="#000"/>
<rect x="454" y="89" width="3" height="14" fill="#000"/>
<rect x="455" y="90" width="1" height="12" fill="#32CD32"/>
<rect x="459" y="73" width="1" height="69" fill="#000"/>
<rect x="458" y="89" width="3" height="3" fill="#000"/>
<rect x="459" y="90" width="1" height="1" fill="#FF0000"/>
<rect x="463" y="82" width="1" height="62" fill="#000"/>
<rect x="462" y="91" width="3" height="52" fill="#000"/>
<rect x="463" y="92" width="1" height="50" fill="#FF0000"/>
<rect x="467" y="101" width="1" height="58" fill="#000"/>
<rect x="466" y="115" width="3" height="28" fill="#000"/>
<rect x="467" y="116" width="1" height="26" fill="#32CD32"/>
<rect x="471" y="96" width="1" height="93" fill="#000"/>
<rect x="470" y="116" width="3" height="71" fill="#000"/>
<rect x="471" y="117" width="1" height="69" fill="#FF0000"/>
<rect x="475" y="170" width="1" height="43" fill="#000"/>
<rect x="474" y="187" width="3" height="23" fill="#000"/>
<rect x="475" y="188" width="1" height="21" fill="#FF0000"/>
<rect x="479" y="203" width="1" height="31" fill="#000"/>
<rect x="478" y="209" width="3" height="20" fill="#000"/>
<rect x="479" y="210" width="1" height="18" fill="#FF0000"/>
<rect x="483" y="195" width="1" height="39" fill="#000"/>
<rect x="482" y="213" width="3" height="16" fill="#000"/>
<rect x="483" y="214" width="1" height="14" fill="#32CD32"/>
<rect x="487" y="201" width="1" height="55" fill="#000"/>
<rect x="486" y="213" width="3" height="37" fill="#000"/>
<rect x="487" y="214" width="1" height="35" fill="#FF0000"/>
<rect x="491" y="244" width="1" height="88" fill="#000"/>
<rect x="490" y="249" width="3" height="48" fill="#000"/>
<rect x="491" y="250" width="1" height="46" fill="#FF0000"/>
<rect x="495" y="248" width="1" height="56" fill="#000"/>
<rect x="494" y="271" width="3" height="27" fill="#000"/>
<rect x="495" y="272" width="1" height="25" fill="#32CD32"/>
<rect x="499" y="266" width="1" height="96" fill="#000"/>
<rect x="498" y="272" width="3" height="82" fill="#000"/>
<rect x="499" y="273" width="1" height="80" fill="#FF0000"/>
<rect x="503" y="344" width="1" height="54" fill="#000"/>
<rect x="502" y="353" width="3" height="44" fill="#000"/>
<rect x="503" y="354" width="1" height="42" fill="#FF0000"/>
<rect x="507" y="360" width="1" height="32" fill="#000"/>
<rect x="506" y="366" width="3" height="13" fill="#000"/>
<rect x="507" y="367" width="1" height="11" fill="#32CD32"/>
<rect x="511" y="326" width="1" height="62" fill="#000"/>
<rect x="510" y="337" width="3" height="30" fill="#000"/>
<rect x="511" y="338" width="1" height="28" fill="#32CD32"/>
<rect x="515" y="327" width="1" height="27" fill="#000"/>
<rect x="514" y="334" width="3" height="4" fill="#000"/>
<rect x="515" y="335" width="1" height="2" fill="#32CD32"/>
<rect x="519" y="310" width="1" height="40" fill="#000"/>
<rect x="518" y="316" width="3" height="19" fill="#000"/>
<rect x="519" y="317" width="1" height="17" fill="#32CD32"/>
<rect x="523" y="230" width="1" height="88" fill="#000"/>
<rect x="522" y="232" width="3" height="85" fill="#000"/>
<rect x="523" y="233" width="1" height="83" fill="#32CD32"/>
<rect x="527" y="224" width="1" height="57" fill="#000"/>
<rect x="526" y="233" width="3" height="29" fill="#000"/>
<rect x="527" y="234" width="1" height="27" fill="#FF0000"/>
<rect x="531" y="213" width="1" height="49" fill="#000"/>
<rect x="530" y="235" width="3" height="27" fill="#000"/>
<rect x="531" y="236" width="1" height="25" fill="#32CD32"/>
<rect x="535" y="213" width="1" height="38" fill="#000"/>
<rect x="534" y="215" width="3" height="21" fill="#000"/>
<rect x="535" y="216" width="1" height="19" fill="#32CD32"/>
<rect x="539" y="192" width="1" height="80" fill="#000"/>
<rect x="538" y="215" width="3" height="26" fill="#000"/>
<rect x="539" y="216" width="1" height="24" fill="#FF0000"/>
<rect x="543" y="198" width="1" height="63" fill="#000"/>
<rect x="542" y="202" width="3" height="39" fill="#000"/>
<rect x="543" y="203" width="1" height="37" fill="#32CD32"/>
<rect x="547" y="149" width="1" height="74" fill="#000"/>
<rect x="546" y="162" width="3" height="41" fill="#000"/>
<rect x="547" y="163" width="1" height="39" fill="#32CD32"/>
<rect x="551" y="154" width="1" height="43" fill="#000"/>
<rect x="550" y="160" width="3" height="3" fill="#000"/>
<rect x="551" y="161" width="1" height="1" fill="#32CD32"/>
<rect x="555" y="154" width="1" height="33" fill="#000"/>
<rect x="554" y="159" width="3" height="22" fill="#000"/>
<rect x="555" y="160" width="1" height="20" fill="#FF0000"/>
<rect x="559" y="148" width="1" height="34" fill="#000"/>
<rect x="558" y="157" width="3" height="25" fill="#000"/>
<rect x="559" y="158" width="1" height="23" fill="#32CD32"/>
<rect x="563" y="147" width="1" height="36" fill="#000"/>
<rect x="562" y="149" width="3" height="9" fill="#000"/>
<rect x="563" y="150" width="1" height="7" fill="#32CD32"/>
<rect x="567" y="140" width="1" height="41" fill="#000"/>
<rect x="566" y="149" width="3" height="11" fill="#000"/>
<rect x="567" y="150" width="1" height="9" fill="#FF0000"/>
<rect x="571" y="159" width="1" height="120" fill="#000"/>
<rect x="570" y="159" width="3" height="84" fill="#000"/>
<rect x="571" y="160" width="1" height="82" fill="#FF0000"/>
<rect x="575" y="197" width="1" height="59" fill="#000"/>
<rect x="574" y="217" width="3" height="25" fill="#000"/>
<rect x="575" y="218" width="1" height="23" fill="#32CD32"/>
<rect x="579" y="198" width="1" height="130" fill="#000"/>
<rect x="578" y="217" width="3" height="84" fill="#000"/>
<rect x="579" y="218" width="1" height="82" fill="#FF0000"/>
<rect x="583" y="275" width="1" height="48" fill="#000"/>
<rect x="582" y="284" width="3" height="18" fill="#000"/>
<rect x="583" y="285" width="1" height="16" fill="#32CD32"/>
<rect x="587" y="261" width="1" height="42" fill="#000"/>
<rect x="586" y="284" width="3" height="18" fill="#000"/>
<rect x="587" y="285" width="1" height="16" fill="#FF0000"/>
<rect x="591" y="282" width="1" height="22" fill="#000"/>
<rect x="590" y="293" width="3" height="9" fill="#000"/>
<rect x="591" y="294" width="1" height="7" fill="#32CD32"/>
</g>
<path fill="#FF0000" shape-rendering="crispEdges" d="M3 198v4h1v-4zM4 198v5h1v-5zM5 199v5h1v-5zM6 200v5h1v-5zM7 201v4h1v-4zM8 202v4h1v-4zM9 203v4h1v-4zM10 204v4h1v-4zM11 205v3h1v-3zM12 205v4h1v-4zM13 206v3h1v-3zM14 206v4h1v-4zM15 207v3h1v-3zM16 207v3h1v-3zM17 207v4h1v-4zM18 208v3h1v-3zM19 208v3h1v-3zM20 208v3h1v-3zM21 208v3h1v-3zM22 208v3h1v-3zM23 208v3h1v-3zM24 208v3h1v-3zM25 208v4h1v-4zM26 209v3h1v-3zM27 209v3h1v-3zM28 209v3h1v-3zM29 209v3h1v-3zM30 209v3h1v-3zM31 209v3h1v-3zM32 209v3h1v-3zM33 209v3h1v-3zM34 209v3h1v-3zM35 209v3h1v-3zM36 209v3h1v-3zM37 209v4h1v-4zM38 210v3h1v-3zM39 210v3h1v-3zM40 210v4h1v-4zM41 211v4h1v-4zM42 212v4h1v-4zM43 213v3h1v-3zM44 213v4h1v-4zM45 214v4h1v-4zM46 215v4h1v-4zM47 216v3h1v-3zM48 216v4h1v-4zM49 217v4h1v-4zM50 218v4h1v-4zM51 219v3h1v-3zM52 219v4h1v-4zM53 220v4h1v-4zM54 221v4h1v-4zM55 222v3h1v-3zM56 222v4h1v-4zM57 223v4h1v-4zM58 224v4h1v-4zM59 225v3h1v-3zM60 225v4h1v-4zM61 226v3h1v-3zM62 226v4h1v-4zM63 227v3h1v-3zM64 227v3h1v-3zM65 226v4h1v-4zM66 226v3h1v-3zM67 226v3h1v-3zM68 226v3h1v-3zM69 225v4h1v-4zM70 225v3h1v-3zM71 225v3h1v-3zM72 225v3h1v-3zM73 225v4h1v-4zM74 226v3h1v-3zM75 226v3h1v-3zM76 226v3h1v-3zM77 226v4h1v-4zM78 227v3h1v-3zM79 227v3h1v-3zM80 227v4h1v-4zM81 228v3h1v-3zM82 228v4h1v-4zM83 229v3h1v-3zM84 229v4h1v-4zM85 230v3h1v-3zM86 230v4h1v-4zM87 231v3h1v-3zM88 231v4h1v-4zM89 232v4h1v-4zM90 233v4h1v-4zM91 234v3h1v-3zM92 234v4h1v-4zM93 235v3h1v-3zM94 235v4h1v-4zM95 236v3h1v-3zM96 236v4h1v-4zM97 237v3h1v-3zM98 237v4h1v-4zM99 238v3h1v-3zM100 238v4h1v-4zM101 239v4h1v-4zM102 240v4h1v-4zM103 241v3h1v-3zM104 241v4h1v-4zM105 242v3h1v-3zM106 242v4h1v-4zM107 243v3h1v-3zM108 243v4h1v-4zM109 244v3h1v-3zM110 244v4h1v-4zM111 245v3h1v-3zM112 245v4h1v-4zM113 246v4h1v-4zM114 247v4h1v-4zM115 248v4h1v-4zM116 248v5h1v-5zM117 249v5h1v-5zM118 250v5h1v-5zM119 251v4h1v-4zM120 252v4h1v-4zM121 253v3h1v-3zM122 253v4h1v-4zM123 254v3h1v-3zM124 254v3h1v-3zM125 254v4h1v-4zM126 255v3h1v-3zM127 255v3h1v-3zM128 255v3h1v-3zM129 254v4h1v-4zM130 254v3h1v-3zM131 254v3h1v-3zM132 254v3h1v-3zM133 253v4h1v-4zM134 253v3h1v-3zM135 253v3h1v-3zM136 252v4h1v-4zM137 251v4h1v-4zM138 250v4h1v-4zM139 250v3h1v-3zM140 249v4h1v-4zM141 248v4h1v-4zM142 247v4h1v-4zM143 247v3h1v-3zM144 246v4h1v-4zM145 245v4h1v-4zM146 244v4h1v-4zM147 244v3h1v-3zM148 243v4h1v-4zM149 242v4h1v-4zM150 241v4h1v-4zM151 241v3h1v-3zM152 241v3h1v-3zM153 241v3h1v-3zM154 241v3h1v-3zM155 241v3h1v-3zM156 241v3h1v-3zM157 241v4h1v-4zM158 242v3h1v-3zM159 242v3h1v-3zM160 242v4h1v-4zM161 243v3h1v-3zM162 243v4h1v-4zM163 244v3h1v-3zM164 244v3h1v-3zM165 244v4h1v-4zM166 245v3h1v-3zM167 245v3h1v-3zM168 245v3h1v-3zM169 245v3h1v-3zM170 245v3h1v-3zM171 245v3h1v-3zM172 245v3h1v-3zM173 245v3h1v-3zM174 245v3h1v-3zM175 245v4h1v-4zM176 245v5h1v-5zM177 246v5h1v-5zM178 247v5h1v-5zM179 248v4h1v-4zM180 249v3h1v-3zM181 249v4h1v-4zM182 250v3h1v-3zM183 250v3h1v-3zM184 250v3h1v-3zM185 250v3h1v-3zM186 250v3h1v-3zM187 249v4h1v-4zM188 248v5h1v-5zM189 247v5h1v-5zM190 246v5h1v-5zM191 245v5h1v-5zM192 243v6h1v-6zM193 242v5h1v-5zM194 240v6h1v-6zM195 239v5h1v-5zM196 238v5h1v-5zM197 237v5h1v-5zM198 236v5h1v-5zM199 236v4h1v-4zM200 235v4h1v-4zM201 234v4h1v-4zM202 233v4h1v-4zM203 232v4h1v-4zM204 230v6h1v-6zM205 229v5h1v-5zM206 227v6h1v-6zM207 225v6h1v-6zM208 223v7h1v-7zM209 221v7h1v-7zM210 219v7h1v-7zM211 217v7h1v-7zM212 215v7h1v-7zM213 213v7h1v-7zM214 211v7h1v-7zM215 209v7h1v-7zM216 207v7h1v-7zM217 205v7h1v-7zM218 203v7h1v-7zM219 202v6h1v-6zM220 200v6h1v-6zM221 199v5h1v-5zM222 197v6h1v-6zM223 196v5h1v-5zM224 195v5h1v-5zM225 194v5h1v-5zM226 193v5h1v-5zM227 193v4h1v-4zM228 193v4h1v-4zM229 194v4h1v-4zM230 195v4h1v-4zM231 196v3h1v-3zM232 195v4h1v-4zM233 195v3h1v-3zM234 194v4h1v-4zM235 194v3h1v-3zM236 193v4h1v-4zM237 192v4h1v-4zM238 191v4h1v-4zM239 190v4h1v-4zM240 189v5h1v-5zM241 188v5h1v-5zM242 187v5h1v-5zM243 187v4h1v-4zM244 186v4h1v-4zM245 185v4h1v-4zM246 184v4h1v-4zM247 184v3h1v-3zM248 184v3h1v-3zM249 183v4h1v-4zM250 183v3h1v-3zM251 183v3h1v-3zM252 183v3h1v-3zM253 182v4h1v-4zM254 182v3h1v-3zM255 182v3h1v-3zM256 181v4h1v-4zM257 180v4h1v-4zM258 179v4h1v-4zM259 179v3h1v-3zM260 179v3h1v-3zM261 178v4h1v-4zM262 178v3h1v-3zM263 178v4h1v-4zM264 178v5h1v-5zM265 179v5h1v-5zM266 180v5h1v-5zM267 181v5h1v-5zM268 182v5h1v-5zM269 183v5h1v-5zM270 184v5h1v-5zM271 185v5h1v-5zM272 186v5h1v-5zM273 187v5h1v-5zM274 188v5h1v-5zM275 189v4h1v-4zM276 190v4h1v-4zM277 191v3h1v-3zM278 191v4h1v-4zM279 192v3h1v-3zM280 192v3h1v-3zM281 192v4h1v-4zM282 193v3h1v-3zM283 193v3h1v-3zM284 193v3h1v-3zM285 193v3h1v-3zM286 193v3h1v-3zM287 193v3h1v-3zM288 193v4h1v-4zM289 194v3h1v-3zM290 194v4h1v-4zM291 195v5h1v-5zM292 195v6h1v-6zM293 197v6h1v-6zM294 199v6h1v-6zM295 200v8h1v-8zM296 202v9h1v-9zM297 205v9h1v-9zM298 208v9h1v-9zM299 211v8h1v-8zM300 214v7h1v-7zM301 216v8h1v-8zM302 219v7h1v-7zM303 221v7h1v-7zM304 223v7h1v-7zM305 225v7h1v-7zM306 227v7h1v-7zM307 229v8h1v-8zM308 231v8h1v-8zM309 233v9h1v-9zM310 236v8h1v-8zM311 238v9h1v-9zM312 241v8h1v-8zM313 243v9h1v-9zM314 246v8h1v-8zM315 248v7h1v-7zM316 251v5h1v-5zM317 253v4h1v-4zM318 254v5h1v-5zM319 255v4h1v-4zM320 256v3h1v-3zM321 256v4h1v-4zM322 257v3h1v-3zM323 257v3h1v-3zM324 256v4h1v-4zM325 256v3h1v-3zM326 255v4h1v-4zM327 255v3h1v-3zM328 254v4h1v-4zM329 254v3h1v-3zM330 253v4h1v-4zM331 253v3h1v-3zM332 253v3h1v-3zM333 252v4h1v-4zM334 252v3h1v-3zM335 252v3h1v-3zM336 252v4h1v-4zM337 253v3h1v-3zM338 253v4h1v-4zM339 254v3h1v-3zM340 254v4h1v-4zM341 255v4h1v-4zM342 256v4h1v-4zM343 257v4h1v-4zM344 257v5h1v-5zM345 259v4h1v-4zM346 260v5h1v-5zM347 261v7h1v-7zM348 262v8h1v-8zM349 264v9h1v-9zM350 267v8h1v-8zM351 269v8h1v-8zM352 272v6h1v-6zM353 274v6h1v-6zM354 276v6h1v-6zM355 277v5h1v-5zM356 279v4h1v-4zM357 280v3h1v-3zM358 280v4h1v-4zM359 281v3h1v-3zM360 281v4h1v-4zM361 282v4h1v-4zM362 283v4h1v-4zM363 284v4h1v-4zM364 284v6h1v-6zM365 286v5h1v-5zM366 287v6h1v-6zM367 289v6h1v-6zM368 290v6h1v-6zM369 292v6h1v-6zM370 294v6h1v-6zM371 295v6h1v-6zM372 297v6h1v-6zM373 299v5h1v-5zM374 300v6h1v-6zM375 302v4h1v-4zM376 303v4h1v-4zM377 304v4h1v-4zM378 305v4h1v-4zM379 306v4h1v-4zM380 306v5h1v-5zM381 308v4h1v-4zM382 309v5h1v-5zM383 310v7h1v-7zM384 311v8h1v-8zM385 313v9h1v-9zM386 316v8h1v-8zM387 318v6h1v-6zM388 321v4h1v-4zM389 322v3h1v-3zM390 322v4h1v-4zM391 323v3h1v-3zM392 323v3h1v-3zM393 323v4h1v-4zM394 324v3h1v-3zM395 324v3h1v-3zM396 324v3h1v-3zM397 323v4h1v-4zM398 323v3h1v-3zM399 323v3h1v-3zM400 322v4h1v-4zM401 322v3h1v-3zM402 321v4h1v-4zM403 320v4h1v-4zM404 318v6h1v-6zM405 317v5h1v-5zM406 315v6h1v-6zM407 312v7h1v-7zM408 310v8h1v-8zM409 307v9h1v-9zM410 305v8h1v-8zM411 302v9h1v-9zM412 300v8h1v-8zM413 297v9h1v-9zM414 295v8h1v-8zM415 292v9h1v-9zM416 289v9h1v-9zM417 287v8h1v-8zM418 283v10h1v-10zM419 280v10h1v-10zM420 276v11h1v-11zM421 272v12h1v-12zM422 269v11h1v-11zM423 265v11h1v-11zM424 262v11h1v-11zM425 259v10h1v-10zM426 256v10h1v-10zM427 253v10h1v-10zM428 250v9h1v-9zM429 247v9h1v-9zM430 244v9h1v-9zM431 240v10h1v-10zM432 237v10h1v-10zM433 234v10h1v-10zM434 231v10h1v-10zM435 227v11h1v-11zM436 224v10h1v-10zM437 221v10h1v-10zM438 218v10h1v-10zM439 214v11h1v-11zM440 211v10h1v-10zM441 208v10h1v-10zM442 205v10h1v-10zM443 202v10h1v-10zM444 199v9h1v-9zM445 196v9h1v-9zM446 193v9h1v-9zM447 190v9h1v-9zM448 188v8h1v-8zM449 185v9h1v-9zM450 183v8h1v-8zM451 181v8h1v-8zM452 179v7h1v-7zM453 177v7h1v-7zM454 175v7h1v-7zM455 174v6h1v-6zM456 172v6h1v-6zM457 171v5h1v-5zM458 169v6h1v-6zM459 168v5h1v-5zM460 166v6h1v-6zM461 165v5h1v-5zM462 163v6h1v-6zM463 163v4h1v-4zM464 162v4h1v-4zM465 161v4h1v-4zM466 160v4h1v-4zM467 160v3h1v-3zM468 160v4h1v-4zM469 161v4h1v-4zM470 162v4h1v-4zM471 163v4h1v-4zM472 163v5h1v-5zM473 164v5h1v-5zM474 165v5h1v-5zM475 166v5h1v-5zM476 167v5h1v-5zM477 168v5h1v-5zM478 169v5h1v-5zM479 170v5h1v-5zM480 171v5h1v-5zM481 172v5h1v-5zM482 173v5h1v-5zM483 174v5h1v-5zM484 175v6h1v-6zM485 177v5h1v-5zM486 178v6h1v-6zM487 180v6h1v-6zM488 181v7h1v-7zM489 183v7h1v-7zM490 185v7h1v-7zM491 187v7h1v-7zM492 189v7h1v-7zM493 191v7h1v-7zM494 193v7h1v-7zM495 195v9h1v-9zM496 197v10h1v-10zM497 200v10h1v-10zM498 203v11h1v-11zM499 206v11h1v-11zM500 210v11h1v-11zM501 213v12h1v-12zM502 217v12h1v-12zM503 221v11h1v-11zM504 224v12h1v-12zM505 228v11h1v-11zM506 231v11h1v-11zM507 235v10h1v-10zM508 238v9h1v-9zM509 241v9h1v-9zM510 244v8h1v-8zM511 246v8h1v-8zM512 249v7h1v-7zM513 251v7h1v-7zM514 253v7h1v-7zM515 255v6h1v-6zM516 257v5h1v-5zM517 259v4h1v-4zM518 260v5h1v-5zM519 261v4h1v-4zM520 262v3h1v-3zM521 262v4h1v-4zM522 263v3h1v-3zM523 263v3h1v-3zM524 262v4h1v-4zM525 262v3h1v-3zM526 261v4h1v-4zM527 261v3h1v-3zM528 260v4h1v-4zM529 259v4h1v-4zM530 258v4h1v-4zM531 257v4h1v-4zM532 256v5h1v-5zM533 255v5h1v-5zM534 254v5h1v-5zM535 254v4h1v-4zM536 254v3h1v-3zM537 253v4h1v-4zM538 253v3h1v-3zM539 252v4h1v-4zM540 251v5h1v-5zM541 250v5h1v-5zM542 249v5h1v-5zM543 248v5h1v-5zM544 246v6h1v-6zM545 245v5h1v-5zM546 243v6h1v-6zM547 241v6h1v-6zM548 240v6h1v-6zM549 238v6h1v-6zM550 236v6h1v-6zM551 234v7h1v-7zM552 232v7h1v-7zM553 230v7h1v-7zM554 228v7h1v-7zM555 226v7h1v-7zM556 224v7h1v-7zM557 222v7h1v-7zM558 220v7h1v-7zM559 219v6h1v-6zM560 218v5h1v-5zM561 217v5h1v-5zM562 216v5h1v-5zM563 215v5h1v-5zM564 213v6h1v-6zM565 212v5h1v-5zM566 210v6h1v-6zM567 210v4h1v-4zM568 210v3h1v-3zM569 209v4h1v-4zM570 209v3h1v-3zM571 209v4h1v-4zM572 209v5h1v-5zM573 210v5h1v-5zM574 211v5h1v-5zM575 212v5h1v-5zM576 213v5h1v-5zM577 215v4h1v-4zM578 216v5h1v-5zM579 217v6h1v-6zM580 218v6h1v-6zM581 220v6h1v-6zM582 222v6h1v-6zM583 223v6h1v-6zM584 225v6h1v-6zM585 227v5h1v-5zM586 228v6h1v-6zM587 230v5h1v-5zM588 231v6h1v-6zM589 233v5h1v-5zM590 234v6h1v-6zM591 236v4h1v-4zM592 237v3h1v-3z"/>
<path fill="#000" shape-rendering="crispEdges" d="M118 470v1h1v-1zM119 470v1h1v-1zM120 469v2h1v-2zM121 469v2h1v-2zM122 468v3h1v-3zM123 468v3h1v-3zM124 467v4h1v-4zM125 467v3h1v-3zM126 466v4h1v-4zM127 466v3h1v-3zM128 465v4h1v-4zM129 464v4h1v-4zM130 463v4h1v-4zM131 463v3h1v-3zM132 462v4h1v-4zM133 462v3h1v-3zM134 461v4h1v-4zM135 461v3h1v-3zM136 460v4h1v-4zM137 460v3h1v-3zM138 459v4h1v-4zM139 459v3h1v-3zM140 458v4h1v-4zM141 457v4h1v-4zM142 456v4h1v-4zM143 456v3h1v-3zM144 455v4h1v-4zM145 455v3h1v-3zM146 454v4h1v-4zM147 454v3h1v-3zM148 453v4h1v-4zM149 453v3h1v-3zM150 452v4h1v-4zM151 452v3h1v-3zM152 451v4h1v-4zM153 451v3h1v-3zM154 450v4h1v-4zM155 450v3h1v-3zM156 449v4h1v-4zM157 449v3h1v-3zM158 448v4h1v-4zM159 448v3h1v-3zM160 447v4h1v-4zM161 447v3h1v-3zM162 446v4h1v-4zM163 446v3h1v-3zM164 445v4h1v-4zM165 445v3h1v-3zM166 444v4h1v-4zM167 444v3h1v-3zM168 443v4h1v-4zM169 443v3h1v-3zM170 442v4h1v-4zM171 442v3h1v-3zM172 441v4h1v-4zM173 441v3h1v-3zM174 440v4h1v-4zM175 440v3h1v-3zM176 439v4h1v-4zM177 439v3h1v-3zM178 438v4h1v-4zM179 438v3h1v-3zM180 437v4h1v-4zM181 437v3h1v-3zM182 436v4h1v-4zM183 436v3h1v-3zM184 436v3h1v-3zM185 435v4h1v-4zM186 435v3h1v-3zM187 435v3h1v-3zM188 434v4h1v-4zM189 433v4h1v-4zM190 432v4h1v-4zM191 432v3h1v-3zM192 431v4h1v-4zM193 431v3h1v-3zM194 430v4h1v-4zM195 430v3h1v-3zM196 429v4h1v-4zM197 428v4h1v-4zM198 427v4h1v-4zM199 427v3h1v-3zM200 426v4h1v-4zM201 425v4h1v-4zM202 424v4h1v-4zM203 424v3h1v-3zM204 423v4h1v-4zM205 422v4h1v-4zM206 421v4h1v-4zM207 421v3h1v-3zM208 420v4h1v-4zM209 419v4h1v-4zM210 418v4h1v-4zM211 418v3h1v-3zM212 417v4h1v-4zM213 416v4h1v-4zM214 415v4h1v-4zM215 415v3h1v-3zM216 414v4h1v-4zM217 414v3h1v-3zM218 413v4h1v-4zM219 413v3h1v-3zM220 412v4h1v-4zM221 411v4h1v-4zM222 410v4h1v-4zM223 410v3h1v-3zM224 409v4h1v-4zM225 409v3h1v-3zM226 408v4h1v-4zM227 408v3h1v-3zM228 407v4h1v-4zM229 406v4h1v-4zM230 405v4h1v-4zM231 405v3h1v-3zM232 404v4h1v-4zM233 404v3h1v-3zM234 403v4h1v-4zM235 403v3h1v-3zM236 402v4h1v-4zM237 402v3h1v-3zM238 401v4h1v-4zM239 401v3h1v-3zM240 400v4h1v-4zM241 399v4h1v-4zM242 398v4h1v-4zM243 398v3h1v-3zM244 397v4h1v-4zM245 396v4h1v-4zM246 395v4h1v-4zM247 395v3h1v-3zM248 394v4h1v-4zM249 393v4h1v-4zM250 392v4h1v-4zM251 392v3h1v-3zM252 391v4h1v-4zM253 391v3h1v-3zM254 390v4h1v-4zM255 390v3h1v-3zM256 389v4h1v-4zM257 389v3h1v-3zM258 388v4h1v-4zM259 388v3h1v-3zM260 388v3h1v-3zM261 387v4h1v-4zM262 387v3h1v-3zM263 387v3h1v-3zM264 386v4h1v-4zM265 386v3h1v-3zM266 385v4h1v-4zM267 385v3h1v-3zM268 384v4h1v-4zM269 384v3h1v-3zM270 383v4h1v-4zM271 383v3h1v-3zM272 383v3h1v-3zM273 382v4h1v-4zM274 382v3h1v-3zM275 382v3h1v-3zM276 381v4h1v-4zM277 381v3h1v-3zM278 380v4h1v-4zM279 380v3h1v-3zM280 379v4h1v-4zM281 379v3h1v-3zM282 378v4h1v-4zM283 378v3h1v-3zM284 378v3h1v-3zM285 377v4h1v-4zM286 377v3h1v-3zM287 377v3h1v-3zM288 376v4h1v-4zM289 376v3h1v-3zM290 375v4h1v-4zM291 375v3h1v-3zM292 375v3h1v-3zM293 374v4h1v-4zM294 374v3h1v-3zM295 374v3h1v-3zM296 374v3h1v-3zM297 373v4h1v-4zM298 373v3h1v-3zM299 373v3h1v-3zM300 373v3h1v-3zM301 372v4h1v-4zM302 372v3h1v-3zM303 372v3h1v-3zM304 372v3h1v-3zM305 372v3h1v-3zM306 372v3h1v-3zM307 372v3h1v-3zM308 372v3h1v-3zM309 371v4h1v-4zM310 371v3h1v-3zM311 371v3h1v-3zM312 371v3h1v-3zM313 370v4h1v-4zM314 370v3h1v-3zM315 370v3h1v-3zM316 370v3h1v-3zM317 369v4h1v-4zM318 369v3h1v-3zM319 369v3h1v-3zM320 368v4h1v-4zM321 368v3h1v-3zM322 367v4h1v-4zM323 367v3h1v-3zM324 367v3h1v-3zM325 366v4h1v-4zM326 366v3h1v-3zM327 366v3h1v-3zM328 366v3h1v-3zM329 365v4h1v-4zM330 365v3h1v-3zM331 365v3h1v-3zM332 365v3h1v-3zM333 364v4h1v-4zM334 364v3h1v-3zM335 364v3h1v-3zM336 364v3h1v-3zM337 363v4h1v-4zM338 363v3h1v-3zM339 363v3h1v-3zM340 363v3h1v-3zM341 362v4h1v-4zM342 362v3h1v-3zM343 362v3h1v-3zM344 362v3h1v-3zM345 362v3h1v-3zM346 362v3h1v-3zM347 362v3h1v-3zM348 362v3h1v-3zM349 362v3h1v-3zM350 362v3h1v-3zM351 362v3h1v-3zM352 362v3h1v-3zM353 361v4h1v-4zM354 361v3h1v-3zM355 361v3h1v-3zM356 361v3h1v-3zM357 361v3h1v-3zM358 361v3h1v-3zM359 361v3h1v-3zM360 361v3h1v-3zM361 361v3h1v-3zM362 361v3h1v-3zM363 361v3h1v-3zM364 361v3h1v-3zM365 361v3h1v-3zM366 361v3h1v-3zM367 361v3h1v-3zM368 361v3h1v-3zM369 361v3h1v-3zM370 361v3h1v-3zM371 361v3h1v-3zM372 361v3h1v-3zM373 361v3h1v-3zM374 361v3h1v-3zM375 361v3h1v-3zM376 361v3h1v-3zM377 361v4h1v-4zM378 362v3h1v-3zM379 362v3h1v-3zM380 362v3h1v-3zM381 362v3h1v-3zM382 362v3h1v-3zM383 362v3h1v-3zM384 362v3h1v-3zM385 362v3h1v-3zM386 362v3h1v-3zM387 362v3h1v-3zM388 362v3h1v-3zM389 362v3h1v-3zM390 362v3h1v-3zM391 362v3h1v-3zM392 362v3h1v-3zM393 362v3h1v-3zM394 362v3h1v-3zM395 362v3h1v-3zM396 362v3h1v-3zM397 361v4h1v-4zM398 361v3h1v-3zM399 361v3h1v-3zM400 361v3h1v-3zM401 360v4h1v-4zM402 360v3h1v-3zM403 360v3h1v-3zM404 360v3h1v-3zM405 359v4h1v-4zM406 359v3h1v-3zM407 359v3h1v-3zM408 358v4h1v-4zM409 358v3h1v-3zM410 357v4h1v-4zM411 357v3h1v-3zM412 356v4h1v-4zM413 356v3h1v-3zM414 355v4h1v-4zM415 355v3h1v-3zM416 354v4h1v-4zM417 354v3h1v-3zM418 353v4h1v-4zM419 353v3h1v-3zM420 352v4h1v-4zM421 352v3h1v-3zM422 351v4h1v-4zM423 351v3h1v-3zM424 350v4h1v-4zM425 349v4h1v-4zM426 348v4h1v-4zM427 348v3h1v-3zM428 348v3h1v-3zM429 347v4h1v-4zM430 347v3h1v-3zM431 347v3h1v-3zM432 346v4h1v-4zM433 345v4h1v-4zM434 344v4h1v-4zM435 344v3h1v-3zM436 343v4h1v-4zM437 342v4h1v-4zM438 341v4h1v-4zM439 341v3h1v-3zM440 340v4h1v-4zM441 339v4h1v-4zM442 338v4h1v-4zM443 338v3h1v-3zM444 337v4h1v-4zM445 336v4h1v-4zM446 335v4h1v-4zM447 335v3h1v-3zM448 334v4h1v-4zM449 333v4h1v-4zM450 332v4h1v-4zM451 332v3h1v-3zM452 331v4h1v-4zM453 331v3h1v-3zM454 330v4h1v-4zM455 330v3h1v-3zM456 329v4h1v-4zM457 329v3h1v-3zM458 328v4h1v-4zM459 328v3h1v-3zM460 328v3h1v-3zM461 327v4h1v-4zM462 327v3h1v-3zM463 327v3h1v-3zM464 326v4h1v-4zM465 326v3h1v-3zM466 325v4h1v-4zM467 325v3h1v-3zM468 324v4h1v-4zM469 324v3h1v-3zM470 323v4h1v-4zM471 323v3h1v-3zM472 322v4h1v-4zM473 322v3h1v-3zM474 321v4h1v-4zM475 321v3h1v-3zM476 321v3h1v-3zM477 320v4h1v-4zM478 320v3h1v-3zM479 320v3h1v-3zM480 320v3h1v-3zM481 319v4h1v-4zM482 319v3h1v-3zM483 319v3h1v-3zM484 319v3h1v-3zM485 318v4h1v-4zM486 318v3h1v-3zM487 318v3h1v-3zM488 318v3h1v-3zM489 318v3h1v-3zM490 318v3h1v-3zM491 318v3h1v-3zM492 318v3h1v-3zM493 318v3h1v-3zM494 318v3h1v-3zM495 318v3h1v-3zM496 318v3h1v-3zM497 317v4h1v-4zM498 317v3h1v-3zM499 317v3h1v-3zM500 317v3h1v-3zM501 317v4h1v-4zM502 318v3h1v-3zM503 318v3h1v-3zM504 318v3h1v-3zM505 318v3h1v-3zM506 318v3h1v-3zM507 318v3h1v-3zM508 318v3h1v-3zM509 318v4h1v-4zM510 319v3h1v-3zM511 319v3h1v-3zM512 319v3h1v-3zM513 319v3h1v-3zM514 319v3h1v-3zM515 319v3h1v-3zM516 319v3h1v-3zM517 319v3h1v-3zM518 319v3h1v-3zM519 319v3h1v-3zM520 319v3h1v-3zM521 319v3h1v-3zM522 319v3h1v-3zM523 319v3h1v-3zM524 319v3h1v-3zM525 318v4h1v-4zM526 318v3h1v-3zM527 318v3h1v-3zM528 318v3h1v-3zM529 317v4h1v-4zM530 317v3h1v-3zM531 317v3h1v-3zM532 317v3h1v-3zM533 316v4h1v-4zM534 316v3h1v-3zM535 316v3h1v-3zM536 316v3h1v-3zM537 315v4h1v-4zM538 315v3h1v-3zM539 315v3h1v-3zM540 315v3h1v-3zM541 314v4h1v-4zM542 314v3h1v-3zM543 314v3h1v-3zM544 313v4h1v-4zM545 313v3h1v-3zM546 312v4h1v-4zM547 312v3h1v-3zM548 312v3h1v-3zM549 311v4h1v-4zM550 311v3h1v-3zM551 311v3h1v-3zM552 310v4h1v-4zM553 310v3h1v-3zM554 309v4h1v-4zM555 309v3h1v-3zM556 308v4h1v-4zM557 308v3h1v-3zM558 307v4h1v-4zM559 307v3h1v-3zM560 307v3h1v-3zM561 306v4h1v-4zM562 306v3h1v-3zM563 306v3h1v-3zM564 305v4h1v-4zM565 305v3h1v-3zM566 304v4h1v-4zM567 304v3h1v-3zM568 304v3h1v-3zM569 304v3h1v-3zM570 304v3h1v-3zM571 304v3h1v-3zM572 304v3h1v-3zM573 303v4h1v-4zM574 303v3h1v-3zM575 303v3h1v-3zM576 303v3h1v-3zM577 303v3h1v-3zM578 303v3h1v-3zM579 303v3h1v-3zM580 303v3h1v-3zM581 303v3h1v-3zM582 303v3h1v-3zM583 303v3h1v-3zM584 303v3h1v-3zM585 302v4h1v-4zM586 302v3h1v-3zM587 302v3h1v-3zM588 302v3h1v-3zM589 302v3h1v-3zM590 302v3h1v-3zM591 302v3h1v-3zM592 302v3h1v-3z"/>
<g shape-rendering="crispEdges">
<rect x="452" y="25" width="167" height="2" fill="#000"/>
<rect x="451" y="211" width="168" height="2" fill="#000"/>
<rect x="451" y="397" width="168" height="2" fill="#000"/>
<line x1="451.54" y1="26" x2="491.4" y2="398" stroke="#000" stroke-width="2"/>
<rect x="2" y="2" width="617" height="1" fill="#000"/>
<rect x="2" y="2" width="1" height="470" fill="#000"/>
<rect x="2" y="471" width="617" height="1" fill="#000"/>
<rect x="618" y="2" width="1" height="470" fill="#000"/>
<rect x="619" y="15" width="2" height="1" fill="#000"/>
<rect x="619" y="96" width="2" height="1" fill="#000"/>
<rect x="619" y="177" width="2" height="1" fill="#000"/>
<rect x="619" y="258" width="2" height="1" fill="#000"/>
<rect x="619" y="339" width="2" height="1" fill="#000"/>
<rect x="619" y="420" width="2" height="1" fill="#000"/>
<rect x="3" y="472" width="1" height="3" fill="#000"/>
<rect x="163" y="472" width="1" height="3" fill="#000"/>
<rect x="323" y="472" width="1" height="3" fill="#000"/>
<rect x="483" y="472" width="1" height="3" fill="#000"/>
<rect x="401.5" y="353.5" width="68" height="22" fill="none" stroke="#000" stroke-width="1"/>
<rect x="401.5" y="387.5" width="68" height="22" fill="none" stroke="#000" stroke-width="1"/>
<rect x="13.5" y="425.5" width="68" height="22" fill="none" stroke="#000" stroke-width="1"/>
<rect x="470" y="364" width="10" height="1" fill="#000"/>
<rect x="82" y="436" width="10" height="1" fill="#000"/>
<rect x="82" y="470" width="10" height="1" fill="#000"/>
<rect x="26" y="459" width="56" height="1" fill="#000"/>
<rect x="81" y="459" width="1" height="12" fill="#000"/>
<rect x="620" y="284" width="71" height="19" fill="#000"/>
</g>
<text x="27" y="20.5" font-size="16" textLength="88" lengthAdjust="spacingAndGlyphs">AUDUSD,H4</text>
<text x="626" y="21.8" font-size="16" textLength="59" lengthAdjust="spacingAndGlyphs">0.71935</text>
<text x="626" y="102.8" font-size="16" textLength="59" lengthAdjust="spacingAndGlyphs">0.71480</text>
<text x="626" y="183.8" font-size="16" textLength="59" lengthAdjust="spacingAndGlyphs">0.71025</text>
<text x="626" y="264.8" font-size="16" textLength="59" lengthAdjust="spacingAndGlyphs">0.70570</text>
<text x="626" y="345.8" font-size="16" textLength="59" lengthAdjust="spacingAndGlyphs">0.70115</text>
<text x="626" y="426.8" font-size="16" textLength="59" lengthAdjust="spacingAndGlyphs">0.69665</text>
<text x="626" y="299.7" font-size="16" textLength="59" lengthAdjust="spacingAndGlyphs" style="fill:#fff;stroke:#fff">0.70376</text>
<text x="517.5" y="22" font-size="16" textLength="99.5" lengthAdjust="spacingAndGlyphs">0.0 (0.71876)</text>
<text x="509.5" y="208.5" font-size="16" textLength="107.5" lengthAdjust="spacingAndGlyphs">50.0 (0.70830)</text>
<text x="500.5" y="394.5" font-size="16" textLength="116.5" lengthAdjust="spacingAndGlyphs">100.0 (0.69785)</text>
<text x="403.5" y="371.2" font-size="18" textLength="65.5" lengthAdjust="spacingAndGlyphs">0.69976</text>
<text x="403.5" y="405.2" font-size="18" textLength="65.5" lengthAdjust="spacingAndGlyphs">0.69786</text>
<text x="15.5" y="443.2" font-size="18" textLength="65.5" lengthAdjust="spacingAndGlyphs">0.69573</text>
<text x="15.5" y="477.2" font-size="18" textLength="65.5" lengthAdjust="spacingAndGlyphs" clip-path="url(#c2)">0.69382</text>
<text x="3" y="490.5" font-size="16" textLength="88" lengthAdjust="spacingAndGlyphs">13 Feb 2026</text>
<text x="163" y="490.5" font-size="16" textLength="94" lengthAdjust="spacingAndGlyphs">23 Feb 20:00</text>
<text x="323" y="490.5" font-size="16" textLength="86" lengthAdjust="spacingAndGlyphs">4 Mar 12:00</text>
<text x="483" y="490.5" font-size="16" textLength="95" lengthAdjust="spacingAndGlyphs">13 Mar 00:00</text>
</svg></body></html>
